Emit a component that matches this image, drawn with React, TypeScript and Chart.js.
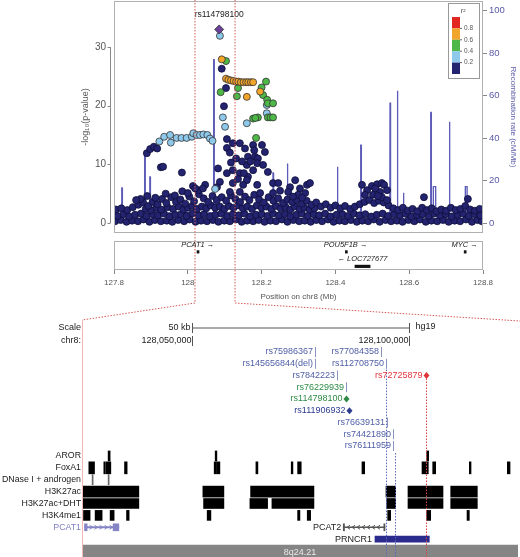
import React, { useEffect, useRef } from 'react';
import { Chart, registerables } from 'chart.js';

Chart.register(...registerables);

const FONT = "'Liberation Sans', Arial, Helvetica, sans-serif";
const W = 520;
const H = 557;

// ---------------- top panel (LocusZoom) data ----------------
const xRangeMb = [127.8, 128.8];
const xTicksMb = [127.8, 128, 128.2, 128.4, 128.6, 128.8];
const yTicksLog = [0, 10, 20, 30];
const yTicksRecomb = [0, 20, 40, 60, 80, 100];
const zoomWindowMb = [128.0195, 128.128];
const indexSnpName = 'rs114798100';
const indexSnpPt: [number, number] = [128.085, 33.0];

const carpetRow1: [number, number][] = [
  [127.803,0.3],[127.818,0.5],[127.834,0.2],[127.849,0.4],[127.865,0.3],[127.88,0.6],[127.896,0.2],[127.911,0.5],[127.927,0.3],[127.943,0.4],
  [127.958,0.2],[127.974,0.5],[127.99,0.3],[128.005,0.6],[128.021,0.2],[128.036,0.4],[128.052,0.3],[128.068,0.5],[128.083,0.2],[128.099,0.4],
  [128.114,0.3],[128.13,0.6],[128.146,0.2],[128.161,0.4],[128.177,0.3],[128.192,0.5],[128.208,0.2],[128.224,0.4],[128.239,0.3],[128.255,0.6],
  [128.27,0.2],[128.286,0.5],[128.302,0.3],[128.317,0.4],[128.333,0.2],[128.348,0.5],[128.364,0.3],[128.38,0.6],[128.395,0.2],[128.411,0.4],
  [128.426,0.3],[128.442,0.5],[128.458,0.2],[128.473,0.4],[128.489,0.3],[128.504,0.6],[128.52,0.2],[128.536,0.5],[128.551,0.3],[128.567,0.4],
  [128.582,0.2],[128.598,0.5],[128.614,0.3],[128.629,0.6],[128.645,0.2],[128.66,0.4],[128.676,0.3],[128.692,0.5],[128.707,0.2],[128.723,0.4],
  [128.738,0.3],[128.754,0.6],[128.77,0.2],[128.785,0.5],[128.797,0.3],
];
const carpetRow2: [number, number][] = [
  [127.81,1.2],[127.826,1.5],[127.841,1.1],[127.857,1.4],[127.873,1.6],[127.888,1.2],[127.904,1.5],[127.919,1.3],[127.935,1.6],[127.951,1.1],
  [127.966,1.4],[127.982,1.5],[127.997,1.2],[128.013,1.6],[128.029,1.3],[128.044,1.5],[128.06,1.1],[128.075,1.4],[128.091,1.6],[128.107,1.2],
  [128.122,1.5],[128.138,1.3],[128.153,1.6],[128.169,1.1],[128.185,1.4],[128.2,1.5],[128.216,1.2],[128.231,1.6],[128.247,1.3],[128.263,1.5],
  [128.278,1.1],[128.294,1.4],[128.309,1.6],[128.325,1.2],[128.341,1.5],[128.356,1.3],[128.372,1.6],[128.387,1.1],[128.403,1.4],[128.419,1.5],
  [128.434,1.2],[128.45,1.6],[128.465,1.3],[128.481,1.5],[128.497,1.1],[128.512,1.4],[128.528,1.6],[128.543,1.2],[128.559,1.5],[128.575,1.3],
  [128.59,1.6],[128.606,1.1],[128.621,1.4],[128.637,1.5],[128.653,1.2],[128.668,1.6],[128.684,1.3],[128.699,1.5],[128.715,1.1],[128.731,1.4],
  [128.746,1.6],[128.762,1.2],[128.777,1.5],[128.793,1.3],
];
const carpetRow3: [number, number][] = [
  [127.886,2.4],[127.9,2.2],[127.915,2.6],[127.928,2.3],[127.945,2.7],[127.96,2.4],[127.975,2.8],[127.988,2.3],[128.0,2.6],[128.012,2.9],
  [128.025,2.4],[128.038,2.8],[128.05,2.5],[128.062,3.0],[128.074,2.6],[128.087,2.8],[128.099,2.4],[128.111,2.9],[128.124,2.6],[128.136,3.0],
  [128.149,2.5],[128.161,2.8],[128.174,2.4],[128.187,3.0],[128.2,2.6],[128.213,2.8],[128.226,2.4],[128.239,2.9],[128.252,2.5],[128.265,2.7],
  [128.278,2.3],[128.29,2.8],[128.303,2.4],[128.316,2.6],[128.33,2.3],[128.343,2.5],
];
const carpetTop: [number, number][] = [
  [127.805,2.3],[127.82,2.5],[127.836,2.2],[127.851,2.7],[127.866,3.1],[127.879,3.5],[127.893,2.9],[127.905,3.6],[127.918,3.2],[127.93,4.1],
  [127.942,3.4],[127.955,4.4],[127.968,3.6],[127.98,4.0],[127.993,3.3],[128.004,4.5],[128.017,3.7],[128.03,4.9],[128.043,4.2],[128.055,3.6],
  [128.067,4.6],[128.079,3.9],[128.092,4.4],[128.104,3.8],[128.117,4.7],[128.129,4.1],[128.142,3.6],[128.155,4.5],[128.167,3.9],[128.18,4.8],
  [128.193,4.0],[128.206,3.5],[128.219,4.4],[128.232,3.8],[128.245,4.2],[128.258,3.4],[128.27,4.0],[128.283,3.6],[128.296,3.9],[128.309,3.3],
  [128.322,3.8],[128.335,3.1],[128.348,3.5],[128.361,2.8],[128.374,3.2],[128.387,2.6],[128.4,3.0],[128.413,2.5],[128.426,2.9],[128.44,2.4],
  [128.453,2.8],[128.466,3.2],[128.479,3.6],[128.492,3.9],[128.505,3.4],[128.518,3.8],[128.531,3.5],[128.544,3.0],[128.557,2.5],[128.57,2.2],
  [128.583,2.6],[128.596,2.1],[128.609,2.4],[128.622,2.0],[128.635,2.6],[128.648,2.2],[128.661,2.5],[128.674,2.0],[128.687,2.3],[128.7,2.1],
  [128.713,2.6],[128.726,2.2],[128.739,2.4],[128.752,2.9],[128.765,2.3],[128.778,2.1],[128.791,2.4],
];
const navyScatter: [number, number][] = [
  [127.872,4.1],[127.89,4.6],[127.912,4.3],[127.94,5.0],[127.965,4.7],[127.985,5.4],[128.0,5.1],[127.86,3.9],
  [127.889,11.9],[127.898,12.6],[127.908,13.0],[127.917,12.7],[127.927,9.5],[127.933,9.6],[127.984,8.6],
  [128.014,6.3],[128.028,5.6],[128.047,6.5],
  [128.092,26.3],[128.1035,23.0],[128.098,19.9],
  [128.106,14.3],[128.106,12.8],[128.122,13.6],[128.122,9.0],[128.122,6.8],[128.141,13.6],[128.141,8.5],[128.141,5.3],
  [128.155,12.7],[128.163,11.3],[128.163,7.9],[128.182,11.3],[128.16,9.9],[128.177,9.0],[128.177,13.3],[128.082,9.3],
  [128.106,8.5],[128.087,7.0],[128.188,6.5],[128.079,6.1],[128.114,5.3],[128.041,5.9],[128.02,5.9],[128.18,12.4],
  [128.201,13.3],[128.209,12.1],[128.19,11.0],[128.188,10.2],[128.204,9.9],[128.217,8.7],[128.231,6.8],[128.231,5.1],
  [128.16,7.3],[128.15,6.5],[128.196,5.1],[128.114,12.0],[128.131,11.0],[128.147,10.5],[128.169,10.5],[128.136,7.5],
  [128.152,8.5],[128.117,10.3],
  [128.291,7.3],[128.277,6.1],[128.304,5.9],[128.323,6.5],[128.331,6.8],[128.272,5.3],[128.299,4.8],[128.318,5.1],[128.285,4.5],[128.31,4.3],
  [128.486,5.6],[128.499,6.3],[128.513,6.6],[128.526,6.8],[128.532,6.5],[128.521,5.3],[128.54,5.6],[128.502,4.8],[128.526,4.4],[128.54,3.9],
  [128.472,6.5],[128.48,4.8],[128.508,5.9],[128.515,4.6],
  [128.64,4.4],[128.759,4.1],[128.25,5.5],[128.245,6.8],
];
const lightBluePts: [number, number][] = [
  [128.087,31.9],[127.923,13.9],[127.936,14.7],[127.952,15.0],[127.954,13.7],[127.97,14.5],[127.983,14.5],[127.997,14.5],
  [128.011,14.7],[128.015,15.3],[128.024,15.0],[128.033,15.0],[128.042,15.1],[128.053,15.0],[128.06,14.4],[128.067,14.0],
  [128.095,18.0],[128.101,16.4],[128.16,17.0],[128.214,20.1],[128.214,18.7],[128.074,5.8],
];
const greenPts: [number, number][] = [
  [128.1035,27.6],[128.089,22.3],[128.133,21.6],[128.136,23.0],[128.177,17.8],[128.19,18.0],[128.185,14.5],[128.2,23.1],
  [128.212,24.1],[128.204,21.8],[128.215,21.0],[128.217,20.4],[128.231,20.4],[128.217,18.0],[128.224,18.0],[128.231,18.0],[128.183,17.9],
];
const orangePts: [number, number][] = [
  [128.092,27.9],[128.1035,24.6],[128.11,24.4],[128.117,24.3],[128.124,24.2],[128.131,24.1],[128.137,24.1],[128.144,24.0],
  [128.151,24.0],[128.158,24.0],[128.164,24.0],[128.171,24.0],[128.177,24.0],[128.16,21.5],[128.196,22.4],
];
const recombRate: [number, number][] = [
  [127.8,1.0],[127.81,2.5],[127.8205,3],[127.821,16.5],[127.8222,16.5],[127.8228,3.5],[127.85,4],[127.8825,4.5],[127.883,33],
  [127.8842,33],[127.8848,8],[127.8965,8],[127.897,21.7],[127.8982,21.7],[127.8988,6],[127.93,5],[127.97,4.5],[128.0,5],
  [128.04,4.5],[128.0694,5],[128.07,77],[128.0712,77],[128.0718,10],[128.09,5],[128.13,4],[128.17,4.5],[128.2302,4.5],
  [128.2308,23.6],[128.232,23.6],[128.2326,4],[128.2689,4],[128.2695,28],[128.2707,28],[128.2713,4],[128.32,3.5],[128.37,4],
  [128.4045,4],[128.4051,26.5],[128.4063,26.5],[128.4069,4],[128.44,3.5],[128.468,4],[128.4686,36.7],[128.4698,36.7],
  [128.4704,4],[128.51,3.5],[128.5474,4],[128.548,56.8],[128.5492,56.8],[128.5498,5],[128.567,5],[128.5676,62.3],
  [128.5688,62.3],[128.5694,5],[128.5834,5],[128.584,14.3],[128.5852,14.3],[128.5858,4],[128.62,3.5],[128.6577,4],
  [128.6583,52.1],[128.6595,52.1],[128.6601,4],[128.6653,4],[128.6654,17.1],[128.6717,17.1],[128.6718,4],[128.7,4],
  [128.7081,4],[128.7087,47.7],[128.7099,47.7],[128.7105,4],[128.752,4],[128.7521,17.1],[128.7569,17.1],[128.757,4],
  [128.78,3.5],[128.8,3],
];
const ldLabels = ['0.8', '0.6', '0.4', '0.2'];
const C_RED = '#e3261f';
const C_ORANGE = '#f2a52b';
const C_GREEN = '#4db748';
const C_LBLUE = '#8ec8ea';
const C_NAVY = '#23236f';
const C_PURPLE = '#6c3f98';
const ldColors = [C_RED, C_ORANGE, C_GREEN, C_LBLUE, C_NAVY];

// genes in the top gene panel
const geneNames = ['PCAT1', 'POU5F1B', 'LOC727677', 'MYC'];
const geneStart = [128.025, 128.427, 128.453, 128.749];
const geneEnd = [128.029, 128.428, 128.494, 128.752];
const geneStrand = [1, 1, -1, 1];
const geneRow = [0, 0, 1, 0];

// ---------------- bottom panel (browser tracks) data ----------------
const viewBp = [128024700, 128125100];
const coordTicks = [128050000, 128100000];
const scaleBarLabel = '50 kb';
const trackRows = ['AROR', 'FoxA1', 'DNase I + androgen', 'H3K27ac', 'H3K27ac+DHT', 'H3K4me1', 'PCAT1', 'PRNCR1', '8q24.21'];
const rowAxisLabels = ['AROR', 'FoxA1', 'DNase I + androgen', 'H3K27ac', 'H3K27ac+DHT', 'H3K4me1', 'PCAT1', '', ''];
const arorBlocks = [[128030716,128031176],[128055368,128055760],[128104075,128104536]];
const foxa1Blocks = [[128026269,128027582],[128029725,128030100],[128030300,128031338],[128034494,128035093],[128055138,128055691],
  [128055829,128056451],[128064746,128065206],[128072879,128073270],[128074353,128075183],[128089168,128089790],
  [128102992,128104444],[128105457,128106148],[128113890,128114282],[128122645,128123267]];
const dnaseBlocks = [[128027029,128027260],[128030716,128030946]];
const h3k27acBlocks = [[128024886,128037789],[128052534,128057373],[128063524,128078109],[128094698,128096932],
  [128099766,128107830],[128109604,128115733]];
const h3k27acDhtBlocks = [[128024886,128037789],[128052696,128057373],[128063363,128067441],[128068432,128078109],
  [128094859,128096932],[128099766,128107830],[128109604,128115733]];
const h3k4me1Blocks = [[128025048,128026568],[128027721,128029333],[128031176,128032098],[128034955,128035554],
  [128053525,128054378],[128074353,128074883],[128076565,128077348],[128095089,128095780],[128104075,128104996],[128113360,128113890]];
const pcat1Span = [128025279, 128033181];
const pcat1Exons = [[128025279,128025878],[128031867,128033181]];
const pcat2Span = [128084860, 128094467];
const pcat2Exons = [[128084860,128085150],[128094200,128094467]];
const prncr1Span = [128092163, 128104674];

const snpNames = ['rs75986367','rs77084358','rs145656844(del)','rs112708750','rs7842223','rs72725879','rs76229939','rs114798100',
  'rs111906932','rs76639131','rs74421890','rs76111959'];
const snpPos = [128078339,128093546,128078339,128094698,128083408,128103914,128085482,128085482,128086173,128094928,128096310,128096310];
const snpRow = [0,0,1,1,2,2,3,4,5,6,7,8];
const S_B = '#4f5ea6', S_G = '#2e8a46', S_R = '#e0343c', S_N = '#2d3c8e';
const snpColor = [S_B,S_B,S_B,S_B,S_B,S_R,S_G,S_G,S_N,S_B,S_B,S_B];
const snpMark = ['tick','tick','tick','tick','tick','diamond','tick','diamond','diamond','tick','tick','tick'];
const guidePos = [128094698, 128096700, 128103914];
const guideFromRow = [1.5, 8.6, 2];
const guideColor = ['#5a6ab8', '#5a6ab8', '#d94040'];

// ---------------- helpers ----------------
const toXY = (arr: [number, number][]) => arr.map(([x, y]) => ({ x, y }));
const blocks = (arr: number[][], row: string) => arr.map(([s, e]) => ({ x: [s, e], y: row }));
const noPad = (s: any) => { s.paddingTop = 0; s.paddingBottom = 0; s.paddingLeft = 0; s.paddingRight = 0; };

const topPlugin = {
  id: 'topDeco',
  afterDatasetsDraw(chart: any) {
    const { ctx, chartArea: a, scales } = chart;
    const xs = scales.x, ys = scales.y;
    ctx.save();
    ctx.lineWidth = 1;
    ctx.strokeStyle = '#b0b0b0';
    ctx.strokeRect(a.left + 0.5, a.top + 0.5, a.right - a.left - 1, a.bottom - a.top - 1);
    // left axis line offset from the frame
    const ax = a.left - 3.5;
    ctx.strokeStyle = '#888';
    ctx.beginPath();
    ctx.moveTo(ax, ys.getPixelForValue(yTicksLog[yTicksLog.length - 1]));
    ctx.lineTo(ax, ys.getPixelForValue(yTicksLog[0]));
    yTicksLog.forEach((v) => {
      const py = Math.round(ys.getPixelForValue(v)) + 0.5;
      ctx.moveTo(ax - 3, py);
      ctx.lineTo(ax, py);
    });
    ctx.stroke();
    // index SNP label
    ctx.fillStyle = '#222';
    ctx.font = `8.5px ${FONT}`;
    ctx.textAlign = 'center';
    ctx.textBaseline = 'middle';
    ctx.fillText(indexSnpName, xs.getPixelForValue(indexSnpPt[0]), 15);
    // r2 legend
    const lx = a.right - 35, ly = a.top + 2, lw = 31, lh = 75;
    ctx.fillStyle = '#fff';
    ctx.fillRect(lx, ly, lw, lh);
    ctx.strokeStyle = '#999';
    ctx.strokeRect(lx + 0.5, ly + 0.5, lw, lh);
    ctx.fillStyle = '#444';
    ctx.font = `italic 7px ${FONT}`;
    ctx.fillText('r²', lx + 15, ly + 8);
    const bh = 11.4, by = ly + 14;
    ldColors.forEach((c, i) => {
      ctx.fillStyle = c;
      ctx.fillRect(lx + 4, by + i * bh, 8, bh);
    });
    ctx.font = `6.5px ${FONT}`;
    ctx.textAlign = 'left';
    ctx.fillStyle = '#555';
    ctx.strokeStyle = '#666';
    ldLabels.forEach((t, i) => {
      const py = by + (i + 1) * bh;
      ctx.beginPath();
      ctx.moveTo(lx + 12, py);
      ctx.lineTo(lx + 14, py);
      ctx.stroke();
      ctx.fillText(t, lx + 16, py);
    });
    // zoom guide lines
    const zl = xs.getPixelForValue(zoomWindowMb[0]);
    const zr = xs.getPixelForValue(zoomWindowMb[1]);
    ctx.strokeStyle = '#d65a5a';
    ctx.setLineDash([1.5, 1.5]);
    ctx.beginPath();
    ctx.moveTo(zl, 0); ctx.lineTo(zl, 303); ctx.lineTo(82, 320);
    ctx.moveTo(zr, 0); ctx.lineTo(zr, 303); ctx.lineTo(W, 321);
    ctx.stroke();
    ctx.restore();
  },
};

const genePlugin = {
  id: 'geneDeco',
  afterDatasetsDraw(chart: any) {
    const { ctx, chartArea: a, scales } = chart;
    const xs = scales.x, ys = scales.y;
    ctx.save();
    ctx.strokeStyle = '#b0b0b0';
    ctx.lineWidth = 1;
    ctx.strokeRect(a.left + 0.5, a.top + 0.5, a.right - a.left - 1, a.bottom - a.top - 1);
    ctx.fillStyle = '#222';
    ctx.font = `italic 7.5px ${FONT}`;
    ctx.textAlign = 'center';
    ctx.textBaseline = 'middle';
    geneNames.forEach((n, i) => {
      const cx = xs.getPixelForValue((geneStart[i] + geneEnd[i]) / 2);
      const py = ys.getPixelForValue(geneRow[i] * 2);
      const txt = geneStrand[i] > 0 ? `${n} \u2192` : `\u2190 ${n}`;
      ctx.fillText(txt, cx, py);
    });
    ctx.restore();
  },
};

const browserPlugin = {
  id: 'browserDeco',
  afterDatasetsDraw(chart: any) {
    const { ctx, chartArea: a, scales } = chart;
    const xs = scales.x, ys = scales.y;
    const px = (v: number) => xs.getPixelForValue(v);
    ctx.save();
    ctx.lineWidth = 1;
    // pink left edge
    ctx.strokeStyle = '#f2b8b8';
    ctx.beginPath();
    ctx.moveTo(a.left + 0.5, 320);
    ctx.lineTo(a.left + 0.5, H);
    ctx.stroke();

    ctx.font = `9px ${FONT}`;
    ctx.textBaseline = 'middle';
    ctx.fillStyle = '#1a1a1a';
    // scale bar
    const sy = 328, cy = 341;
    const s0 = Math.round(px(coordTicks[0])) + 0.5, s1 = Math.round(px(coordTicks[1])) + 0.5;
    ctx.textAlign = 'right';
    ctx.fillText('Scale', a.left - 1, sy);
    ctx.fillText(scaleBarLabel, s0 - 2, sy);
    ctx.fillText('chr8:', a.left - 1, cy);
    ctx.textAlign = 'left';
    ctx.fillText('hg19', s1 + 6, sy - 1);
    ctx.strokeStyle = '#555';
    ctx.beginPath();
    ctx.moveTo(s0, sy); ctx.lineTo(s1, sy);
    ctx.moveTo(s0, sy - 5); ctx.lineTo(s0, sy + 5);
    ctx.moveTo(s1, sy - 5); ctx.lineTo(s1, sy + 5);
    ctx.stroke();
    ctx.textAlign = 'right';
    coordTicks.forEach((v) => {
      const p = Math.round(px(v)) + 0.5;
      ctx.fillText(v.toLocaleString('en-US'), p - 1, cy);
      ctx.beginPath();
      ctx.moveTo(p, cy - 5); ctx.lineTo(p, cy + 5);
      ctx.stroke();
    });

    // guide lines
    const rowY = (r: number) => 352 + r * 11.75;
    ctx.setLineDash([1.5, 1.5]);
    guidePos.forEach((g, i) => {
      const p = Math.round(px(g)) + 0.5;
      ctx.strokeStyle = guideColor[i];
      ctx.beginPath();
      ctx.moveTo(p, rowY(guideFromRow[i]));
      ctx.lineTo(p, H);
      ctx.stroke();
    });
    ctx.setLineDash([]);

    // SNP labels
    snpNames.forEach((n, i) => {
      const p = Math.round(px(snpPos[i])) + 0.5;
      const y = rowY(snpRow[i]);
      ctx.fillStyle = snpColor[i];
      ctx.textAlign = 'right';
      if (snpMark[i] === 'diamond') {
        ctx.fillText(n, p - 4, y);
        ctx.beginPath();
        ctx.moveTo(p, y - 3.5); ctx.lineTo(p + 3, y); ctx.lineTo(p, y + 3.5); ctx.lineTo(p - 3, y);
        ctx.closePath();
        ctx.fill();
      } else {
        ctx.fillText(n, p - 2.5, y);
        ctx.strokeStyle = '#8a94c0';
        ctx.beginPath();
        ctx.moveTo(p, y - 5); ctx.lineTo(p, y + 5);
        ctx.stroke();
      }
    });

    // gene chevrons
    const gy = ys.getPixelForValue(6);
    const chev = (x1: number, x2: number, dir: number, color: string) => {
      ctx.strokeStyle = color;
      ctx.beginPath();
      for (let c = x1 + 4; c < x2 - 2; c += 5) {
        ctx.moveTo(c - dir * 1.5, gy - 2);
        ctx.lineTo(c + dir * 1.5, gy);
        ctx.lineTo(c - dir * 1.5, gy + 2);
      }
      ctx.stroke();
    };
    chev(px(pcat1Exons[0][1]), px(pcat1Exons[1][0]), 1, '#8585c6');
    chev(px(pcat2Exons[0][1]), px(pcat2Exons[1][0]), -1, '#555');
    ctx.fillStyle = '#222';
    ctx.textAlign = 'right';
    ctx.fillText('PCAT2', px(pcat2Span[0]) - 2, gy);
    ctx.fillText('PRNCR1', px(prncr1Span[0]) - 3, ys.getPixelForValue(7));
    ctx.fillStyle = '#e8e8e8';
    ctx.textAlign = 'center';
    ctx.fillText(trackRows[8], (a.left + a.right) / 2, ys.getPixelForValue(8) + 1);
    ctx.restore();
  },
};

export default function App() {
  const aRef = useRef<HTMLCanvasElement>(null);
  const bRef = useRef<HTMLCanvasElement>(null);
  const cRef = useRef<HTMLCanvasElement>(null);

  useEffect(() => {
    document.body.style.margin = '0';
    const ptStyle = (bg: string, border: string) => ({
      backgroundColor: bg, borderColor: border, borderWidth: 0.8, pointRadius: 3.5,
    });
    const chartA = new Chart(aRef.current as HTMLCanvasElement, {
      type: 'scatter',
      data: {
        datasets: [
          { type: 'line', data: toXY(recombRate), yAxisID: 'y2', borderColor: '#5c5cb8', borderWidth: 1.3,
            pointRadius: 0, tension: 0, order: 10, fill: false } as any,
          { data: toXY([...carpetRow1, ...carpetRow2, ...carpetRow3, ...carpetTop, ...navyScatter]), yAxisID: 'y',
            ...ptStyle(C_NAVY, '#0e0e3a'), order: 5 },
          { data: toXY(lightBluePts), yAxisID: 'y', ...ptStyle(C_LBLUE, '#333'), order: 4 },
          { data: toXY(greenPts), yAxisID: 'y', ...ptStyle(C_GREEN, '#333'), order: 3 },
          { data: toXY(orangePts), yAxisID: 'y', ...ptStyle(C_ORANGE, '#333'), order: 2 },
          { data: toXY([indexSnpPt]), yAxisID: 'y', backgroundColor: C_PURPLE, borderColor: '#333', borderWidth: 0.8,
            pointRadius: 4.5, pointStyle: 'rectRot', order: 1 },
        ],
      },
      options: {
        animation: false, responsive: false, maintainAspectRatio: false, events: [],
        layout: { autoPadding: false, padding: { left: 78, top: 1, right: 0, bottom: H - 233 } },
        plugins: { legend: { display: false }, tooltip: { enabled: false } },
        scales: {
          x: { type: 'linear', min: xRangeMb[0], max: xRangeMb[1], display: false },
          y: {
            type: 'linear', position: 'left', min: -1.705, max: 37.84,
            afterFit: (s: any) => { s.width = 36; noPad(s); },
            afterBuildTicks: (s: any) => { s.ticks = yTicksLog.map((v) => ({ value: v })); },
            grid: { display: false, drawTicks: false }, border: { display: false },
            ticks: { padding: 8, color: '#555', font: { family: FONT, size: 10 }, callback: (v: any) => String(v) },
            title: { display: true, text: '-log\u2081\u2080(p-value)', color: '#555', font: { family: FONT, size: 9 }, padding: { top: 2, bottom: 0 } },
          },
          y2: {
            type: 'linear', position: 'right', min: -4.71, max: 104.57,
            afterFit: (s: any) => { s.width = 37; noPad(s); },
            afterBuildTicks: (s: any) => { s.ticks = yTicksRecomb.map((v) => ({ value: v })); },
            grid: { display: true, drawOnChartArea: false, drawTicks: true, tickLength: 4, color: '#888' },
            border: { display: false },
            ticks: { padding: 2, color: '#5a5aa8', font: { family: FONT, size: 9.5 }, callback: (v: any) => String(v) },
            title: { display: true, text: 'Recombination rate (cM/Mb)', color: '#5a5aa8', font: { family: FONT, size: 8 }, padding: { top: 2, bottom: 0 } },
          },
        },
      },
      plugins: [topPlugin],
    } as any);

    const chartB = new Chart(bRef.current as HTMLCanvasElement, {
      type: 'bar',
      data: {
        labels: ['l0', 'g0', 'l1', 'g1'],
        datasets: [
          { data: geneNames.map((_, i) => ({ x: [geneStart[i], geneEnd[i]], y: geneRow[i] === 0 ? 'g0' : 'g1' })),
            backgroundColor: '#111', barThickness: 2.5, minBarLength: 2, grouped: false, borderWidth: 0 },
        ],
      },
      options: {
        indexAxis: 'y', animation: false, responsive: false, maintainAspectRatio: false, events: [],
        layout: { autoPadding: false, padding: { left: 114, right: 37, top: 241, bottom: H - 270 - 36 } },
        plugins: { legend: { display: false }, tooltip: { enabled: false } },
        scales: {
          x: {
            type: 'linear', position: 'bottom', min: xRangeMb[0], max: xRangeMb[1],
            afterFit: (s: any) => { s.height = 36; noPad(s); },
            afterBuildTicks: (s: any) => { s.ticks = xTicksMb.map((v) => ({ value: v })); },
            grid: { display: true, drawOnChartArea: false, drawTicks: true, tickLength: 4, color: '#888' },
            border: { display: false },
            ticks: { padding: 4, color: '#555', maxRotation: 0, autoSkip: false, font: { family: FONT, size: 8 }, callback: (v: any) => String(v) },
            title: { display: true, text: 'Position on chr8 (Mb)', color: '#555', font: { family: FONT, size: 8 }, padding: { top: 0, bottom: 4 } },
          },
          y: { type: 'category', offset: true, display: false },
        },
      },
      plugins: [genePlugin],
    } as any);

    const bar = (data: any[], color: string, thickness: number) => ({
      data, backgroundColor: color, barThickness: thickness, grouped: false, borderWidth: 0, minBarLength: 1,
    });
    const chartC = new Chart(cRef.current as HTMLCanvasElement, {
      type: 'bar',
      data: {
        labels: trackRows,
        datasets: [
          bar(blocks(arorBlocks, trackRows[0]), '#000', 10),
          bar(blocks(foxa1Blocks, trackRows[1]), '#000', 12),
          bar(blocks(dnaseBlocks, trackRows[2]), '#666', 10),
          bar(blocks(h3k27acBlocks, trackRows[3]), '#000', 11),
          bar(blocks(h3k27acDhtBlocks, trackRows[4]), '#000', 10),
          bar(blocks(h3k4me1Blocks, trackRows[5]), '#000', 10),
          bar(blocks([pcat1Span], trackRows[6]), '#8585c6', 1.5),
          bar(blocks(pcat1Exons, trackRows[6]), '#8585c6', 7),
          bar(blocks([pcat2Span], trackRows[6]), '#555', 1),
          bar(blocks(pcat2Exons, trackRows[6]), '#555', 7),
          bar(blocks([prncr1Span], trackRows[7]), '#2b2b8e', 6),
          bar(blocks([viewBp], trackRows[8]), '#858585', 12),
        ],
      },
      options: {
        indexAxis: 'y', animation: false, responsive: false, maintainAspectRatio: false, events: [],
        layout: { autoPadding: false, padding: { left: 0, right: 2, top: 450, bottom: 0 } },
        plugins: { legend: { display: false }, tooltip: { enabled: false } },
        scales: {
          x: { type: 'linear', min: viewBp[0], max: viewBp[1], display: false },
          y: {
            type: 'category', offset: true,
            afterFit: (s: any) => { s.width = 82; noPad(s); },
            grid: { display: false, drawTicks: false }, border: { display: false },
            ticks: {
              padding: 1, autoSkip: false, font: { family: FONT, size: 8.8 },
              color: (c: any) => (c.index === 6 ? '#8080c0' : '#1a1a1a'),
              callback: (_v: any, i: number) => rowAxisLabels[i],
            },
          },
        },
      },
      plugins: [browserPlugin],
    } as any);

    return () => { chartA.destroy(); chartB.destroy(); chartC.destroy(); };
  }, []);

  const st: React.CSSProperties = { position: 'absolute', left: 0, top: 0, width: W, height: H };
  return (
    <div style={{ position: 'relative', width: W, height: H, background: '#fff', overflow: 'hidden' }}>
      <canvas ref={aRef} width={W} height={H} style={st} />
      <canvas ref={bRef} width={W} height={H} style={st} />
      <canvas ref={cRef} width={W} height={H} style={st} />
    </div>
  );
}
